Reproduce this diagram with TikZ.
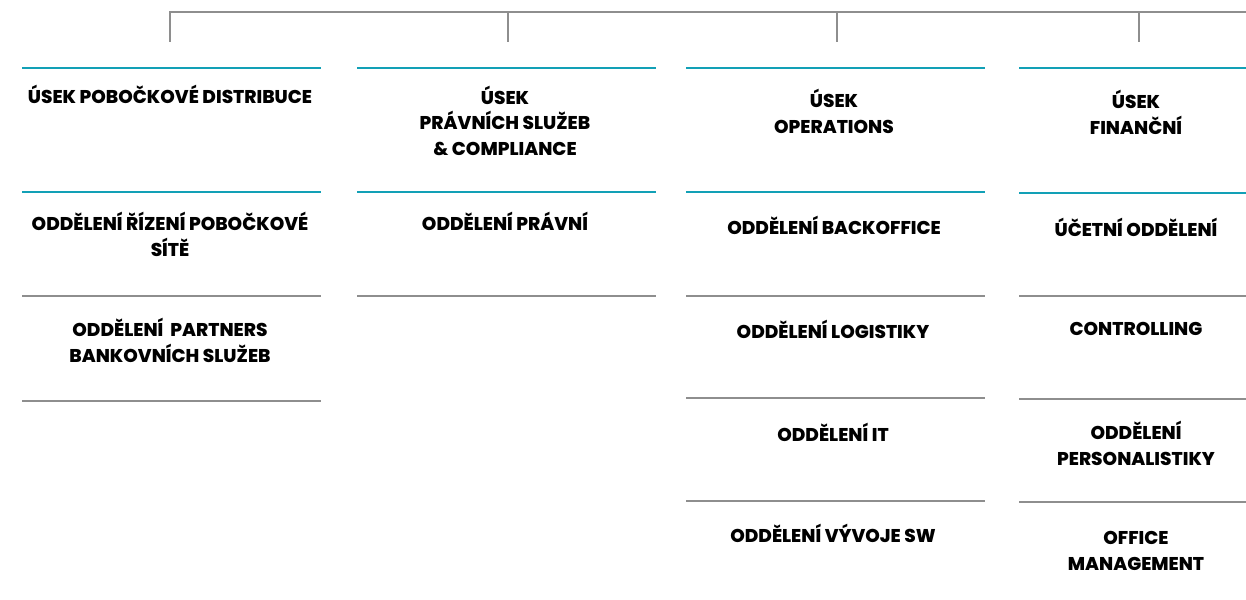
\documentclass[tikz,border=0pt]{standalone}
\usepackage{fontspec}
\setmainfont{Poppins}[BoldFont={Poppins ExtraBold}]
\definecolor{tealline}{HTML}{12A0B6}
\definecolor{grayline}{HTML}{8E8E8E}
\begin{document}
\begin{tikzpicture}
[x=1pt,y=-1pt,
  unitlabel/.style={font=\fontsize{18.5}{25.5}\selectfont\bfseries,align=center,anchor=base,inner sep=0pt},
  headline/.style={-,line width=2.6pt,color=tealline},
  sepline/.style={-,line width=2.6pt,color=grayline},
  barline/.style={-,line width=2.4pt,color=grayline}]
\useasboundingbox (0,0) rectangle (1246,599);
%% top bar and ticks
\coordinate (barend) at (1246,12);
\foreach \tickname/\x in {pob/170, prav/508, oper/837, fin/1139} {
  \coordinate (\tickname-top) at (\x,12);
  \coordinate (\tickname-bot) at (\x,42);
}
\draw[barline] (pob-bot) |- (barend);
\foreach \tickname in {prav, oper, fin} {
  \draw[barline] (\tickname-top) -- (\tickname-bot);
}
%% rule lines of the columns
\foreach \xa/\xb/\y/\kind in {22/321/68/headline, 22/321/192/headline, 22/321/296/sepline, 22/321/401/sepline,
  357/656/68/headline, 357/656/192/headline, 357/656/296/sepline,
  686/985/68/headline, 686/985/192/headline, 686/985/296/sepline, 686/985/398/sepline, 686/985/501/sepline,
  1019/1246/68/headline, 1019/1246/193/headline, 1019/1246/296/sepline, 1019/1246/399/sepline, 1019/1246/502/sepline} {
  \draw[\kind] (\xa,\y) -- (\xb,\y);
}
%% unit labels (anchored at the baseline of the last line)
\node (pobhead) at (170,104) [unitlabel] {ÚSEK POBOČKOVÉ DISTRIBUCE};
\node (pobrizeni) at (170,256) [unitlabel] {ODDĚLENÍ ŘÍZENÍ POBOČKOVÉ\\SÍTĚ};
\node (pobpartners) at (170,362) [unitlabel] {ODDĚLENÍ\ \ PARTNERS\\BANKOVNÍCH SLUŽEB};
\node (pravhead) at (505,155) [unitlabel] {ÚSEK\\PRÁVNÍCH SLUŽEB\\\& COMPLIANCE};
\node (pravpravni) at (505,230) [unitlabel] {ODDĚLENÍ PRÁVNÍ};
\node (operhead) at (834,133) [unitlabel] {ÚSEK\\OPERATIONS};
\node (operback) at (834,234) [unitlabel] {ODDĚLENÍ BACKOFFICE};
\node (operlog) at (833,338) [unitlabel] {ODDĚLENÍ LOGISTIKY};
\node (operit) at (833,441) [unitlabel] {ODDĚLENÍ IT};
\node (opervyvoj) at (833,542) [unitlabel] {ODDĚLENÍ VÝVOJE SW};
\node (finhead) at (1136,134) [unitlabel] {ÚSEK\\FINANČNÍ};
\node (finucet) at (1136,236) [unitlabel] {ÚČETNÍ ODDĚLENÍ};
\node (fincontrol) at (1136,335) [unitlabel] {CONTROLLING};
\node (finperson) at (1136,465) [unitlabel] {ODDĚLENÍ\\PERSONALISTIKY};
\node (finoffice) at (1136,570) [unitlabel] {OFFICE\\MANAGEMENT};
\end{tikzpicture}
\end{document}
